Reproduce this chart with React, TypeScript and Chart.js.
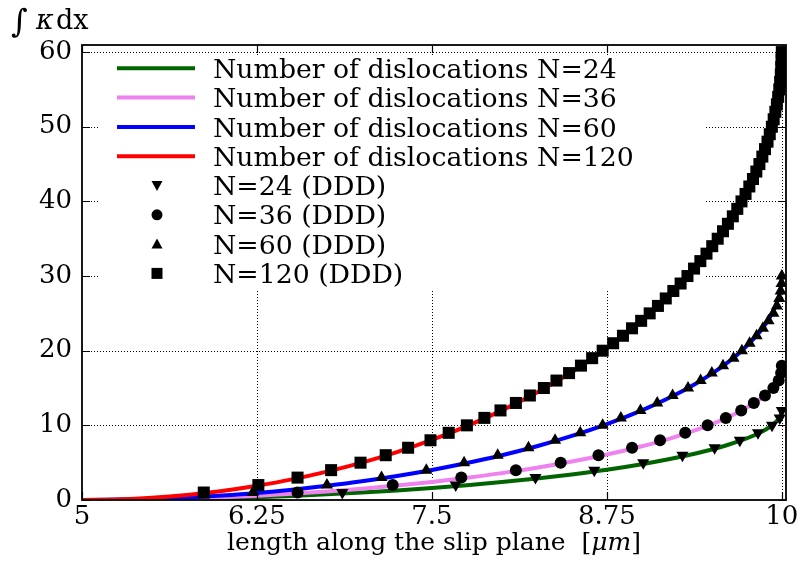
import React, { useEffect, useRef } from "react";
import { Chart, registerables } from "chart.js";

Chart.register(...registerables);

// ---------- data ----------
const curveX = [5, 5.25, 5.5, 5.75, 6, 6.25, 6.5, 6.75, 7, 7.25, 7.5, 7.75, 8, 8.25, 8.5, 8.75, 9, 9.2, 9.4, 9.5, 9.6, 9.7, 9.8, 9.85, 9.9, 9.93, 9.96, 9.98, 9.99, 10];
const curveN24 = [0, 0.02, 0.06, 0.14, 0.24, 0.38, 0.55, 0.76, 1.0, 1.28, 1.61, 1.98, 2.4, 2.88, 3.43, 4.06, 4.8, 5.49, 6.3, 6.77, 7.3, 7.91, 8.64, 9.08, 9.61, 10.0, 10.49, 10.93, 11.24, 12.0];
const curveN36 = [0, 0.02, 0.09, 0.2, 0.36, 0.57, 0.83, 1.14, 1.5, 1.93, 2.41, 2.97, 3.6, 4.32, 5.15, 6.09, 7.2, 8.23, 9.45, 10.15, 10.95, 11.86, 12.96, 13.62, 14.42, 15.0, 15.73, 16.39, 16.86, 18.0];
const curveN60 = [0, 0.04, 0.15, 0.34, 0.61, 0.95, 1.38, 1.9, 2.5, 3.21, 4.02, 4.95, 6.0, 7.2, 8.58, 10.16, 12.0, 13.72, 15.75, 16.92, 18.24, 19.76, 21.6, 22.71, 24.03, 25.0, 26.21, 27.32, 28.1, 30.0];
const curveN120 = [0, 0.08, 0.3, 0.68, 1.21, 1.91, 2.76, 3.8, 5.01, 6.42, 8.04, 9.89, 12.0, 14.4, 17.15, 20.31, 24.0, 27.44, 31.5, 33.85, 36.48, 39.53, 43.2, 45.41, 48.06, 50.0, 52.43, 54.64, 56.21, 60.0];

const ddd24X = [6.86, 7.67, 8.24, 8.66, 9.01, 9.29, 9.52, 9.7, 9.83, 9.93, 9.985, 10.0];
const ddd24Y = [1, 2, 3, 4, 5, 6, 7, 8, 9, 10, 11, 12];
const ddd36X = [6.54, 7.22, 7.71, 8.1, 8.42, 8.69, 8.93, 9.13, 9.31, 9.47, 9.6, 9.71, 9.8, 9.88, 9.94, 9.978, 9.995, 10.0];
const ddd36Y = [1, 2, 3, 4, 5, 6, 7, 8, 9, 10, 11, 12, 13, 14, 15, 16, 17, 18];
const ddd60X = [6.22, 6.75, 7.14, 7.46, 7.73, 7.97, 8.19, 8.38, 8.56, 8.72, 8.85, 8.99, 9.11, 9.22, 9.33, 9.42, 9.5, 9.58, 9.655, 9.715, 9.77, 9.82, 9.865, 9.905, 9.94, 9.965, 9.982, 9.992, 9.998, 10.0];
const ddd60Y = [1, 2, 3, 4, 5, 6, 7, 8, 9, 10, 11, 12, 13, 14, 15, 16, 17, 18, 19, 20, 21, 22, 23, 24, 25, 26, 27, 28, 29, 30];
const ddd120X = [5.87, 6.26, 6.54, 6.78, 6.99, 7.17, 7.33, 7.49, 7.62, 7.75, 7.875, 7.99, 8.1, 8.2, 8.3, 8.39, 8.48, 8.565, 8.645, 8.72, 8.795, 8.865, 8.93, 8.995, 9.056, 9.115, 9.171, 9.225, 9.277, 9.326, 9.373, 9.418, 9.462, 9.503, 9.542, 9.58, 9.615, 9.65, 9.682, 9.712, 9.741, 9.768, 9.794, 9.818, 9.84, 9.861, 9.88, 9.898, 9.914, 9.929, 9.942, 9.954, 9.965, 9.974, 9.982, 9.988, 9.993, 9.996, 9.998, 10.0];
const ddd120Y = [1, 2, 3, 4, 5, 6, 7, 8, 9, 10, 11, 12, 13, 14, 15, 16, 17, 18, 19, 20, 21, 22, 23, 24, 25, 26, 27, 28, 29, 30, 31, 32, 33, 34, 35, 36, 37, 38, 39, 40, 41, 42, 43, 44, 45, 46, 47, 48, 49, 50, 51, 52, 53, 54, 55, 56, 57, 58, 59, 60];

const xTicks = [5, 6.25, 7.5, 8.75, 10];
const yTicks = [0, 10, 20, 30, 40, 50, 60];

const lineLabels = [
  "Number of dislocations N=24",
  "Number of dislocations N=36",
  "Number of dislocations N=60",
  "Number of dislocations N=120",
];
const markerLabels = ["N=24 (DDD)", "N=36 (DDD)", "N=60 (DDD)", "N=120 (DDD)"];
const lineColors = ["#006400", "#EE82EE", "#0000FF", "#FF0000"];
const markerKinds = ["down", "circle", "up", "square"];

const FAMILY = "'DejaVu Serif', serif";

function pts(xs: number[], ys: number[]) {
  return xs.map((x, i) => ({ x, y: ys[i] }));
}

function drawMarker(ctx: CanvasRenderingContext2D, kind: string, x: number, y: number, s: number) {
  ctx.beginPath();
  if (kind === "circle") {
    ctx.arc(x, y, s * 0.5, 0, Math.PI * 2);
  } else if (kind === "square") {
    ctx.rect(x - s / 2, y - s / 2, s, s);
  } else if (kind === "up") {
    ctx.moveTo(x, y - s / 2);
    ctx.lineTo(x + s / 2, y + s / 2 - 1);
    ctx.lineTo(x - s / 2, y + s / 2 - 1);
    ctx.closePath();
  } else {
    ctx.moveTo(x, y + s / 2);
    ctx.lineTo(x + s / 2, y - s / 2 + 1);
    ctx.lineTo(x - s / 2, y - s / 2 + 1);
    ctx.closePath();
  }
  ctx.fill();
}

function fitSize(ctx: CanvasRenderingContext2D, text: string, target: number, style = "") {
  ctx.font = `${style} 100px ${FAMILY}`;
  return (100 * target) / ctx.measureText(text).width;
}

const decor = {
  id: "decor",
  beforeDatasetsDraw(chart: any) {
    const { ctx, chartArea: a, scales } = chart;
    ctx.save();
    ctx.strokeStyle = "#000";
    ctx.lineWidth = 1;
    ctx.setLineDash([1, 2]);
    ctx.beginPath();
    xTicks.slice(1).forEach((v) => {
      const px = Math.round(scales.x.getPixelForValue(v)) + 0.5;
      ctx.moveTo(px, a.top);
      ctx.lineTo(px, a.bottom);
    });
    yTicks.slice(1).forEach((v) => {
      const py = Math.round(scales.y.getPixelForValue(v)) + 0.5;
      ctx.moveTo(a.left, py);
      ctx.lineTo(a.right, py);
    });
    ctx.stroke();
    // legend background hides the grid but stays under the data
    ctx.fillStyle = "#fff";
    ctx.fillRect(a.left + 17, a.top + 10, 606, 235);
    ctx.restore();
  },
  afterDatasetsDraw(chart: any) {
    const { ctx, chartArea: a } = chart;
    ctx.save();
    const fs = fitSize(ctx, lineLabels[0], 404);
    ctx.font = `${fs}px ${FAMILY}`;
    ctx.textAlign = "left";
    ctx.textBaseline = "alphabetic";
    const rowH = 29.3;
    const labels = [...lineLabels, ...markerLabels];
    labels.forEach((lab, i) => {
      const ry = a.top + 23.3 + i * rowH;
      if (i < 4) {
        ctx.strokeStyle = lineColors[i];
        ctx.lineWidth = 4;
        ctx.beginPath();
        ctx.moveTo(a.left + 35, ry);
        ctx.lineTo(a.left + 113, ry);
        ctx.stroke();
      } else {
        ctx.fillStyle = "#000";
        drawMarker(ctx, markerKinds[i - 4], a.left + 75, ry, 11);
      }
      ctx.fillStyle = "#000";
      ctx.fillText(lab, a.left + 131, ry + fs * 0.36);
    });
    ctx.restore();
  },
  afterDraw(chart: any) {
    const { ctx, chartArea: a, scales } = chart;
    ctx.save();
    // inward ticks
    ctx.strokeStyle = "#000";
    ctx.lineWidth = 1.2;
    ctx.beginPath();
    xTicks.forEach((v) => {
      const px = Math.round(scales.x.getPixelForValue(v)) + 0.5;
      ctx.moveTo(px, a.bottom);
      ctx.lineTo(px, a.bottom - 8);
      ctx.moveTo(px, a.top);
      ctx.lineTo(px, a.top + 8);
    });
    yTicks.forEach((v) => {
      const py = Math.round(scales.y.getPixelForValue(v)) + 0.5;
      ctx.moveTo(a.left, py);
      ctx.lineTo(a.left + 8, py);
      ctx.moveTo(a.right, py);
      ctx.lineTo(a.right - 8, py);
    });
    ctx.stroke();
    // frame
    ctx.lineWidth = 1.8;
    ctx.strokeRect(a.left, a.top, a.right - a.left, a.bottom - a.top);

    // x-axis title
    ctx.fillStyle = "#000";
    ctx.textBaseline = "alphabetic";
    ctx.textAlign = "left";
    const p1 = "length along the slip plane  [";
    const p2 = "\u03bcm";
    const p3 = "]";
    const fsx = 25;
    ctx.font = `${fsx}px ${FAMILY}`;
    const w1 = ctx.measureText(p1).width;
    const w3 = ctx.measureText(p3).width;
    ctx.font = `italic ${fsx}px ${FAMILY}`;
    const w2 = ctx.measureText(p2).width;
    const total = w1 + w2 + w3;
    const sx = (a.left + a.right) / 2 - total / 2;
    const by = a.bottom + 50;
    ctx.font = `${fsx}px ${FAMILY}`;
    ctx.fillText(p1, sx, by);
    ctx.font = `italic ${fsx}px ${FAMILY}`;
    ctx.fillText(p2, sx + w1, by);
    ctx.font = `${fsx}px ${FAMILY}`;
    ctx.fillText(p3, sx + w1 + w2, by);

    // y-axis title (top-left)
    const ty = a.top - 16;
    ctx.font = `32px ${FAMILY}`;
    ctx.fillText("\u222b", a.left - 71, ty + 3);
    ctx.font = `italic 27px ${FAMILY}`;
    ctx.fillText("\u03ba", a.left - 46, ty);
    ctx.font = `27px ${FAMILY}`;
    ctx.fillText("dx", a.left - 26, ty);
    ctx.restore();
  },
};

export default function App() {
  const ref = useRef<HTMLCanvasElement>(null);
  useEffect(() => {
    document.body.style.margin = "0";
    const canvas = ref.current!;
    const tickFont = { family: FAMILY, size: 26 };
    const lineDs = (label: string, ys: number[], color: string, order: number) => ({
      type: "line" as const,
      label,
      data: pts(curveX, ys),
      borderColor: color,
      backgroundColor: color,
      borderWidth: 4,
      pointRadius: 0,
      fill: false,
      cubicInterpolationMode: "monotone" as const,
      clip: 0,
      order,
    });
    const markDs = (label: string, xs: number[], ys: number[], style: string, r: number, rot: number) => ({
      type: "scatter" as const,
      label,
      data: pts(xs, ys),
      pointStyle: style,
      pointRadius: r,
      pointRotation: rot,
      backgroundColor: "#000",
      borderColor: "#000",
      borderWidth: 0,
      clip: 0,
      order: 0,
    });
    const chart = new Chart(canvas, {
      type: "scatter",
      data: {
        datasets: [
          lineDs(lineLabels[0], curveN24, lineColors[0], 4),
          lineDs(lineLabels[1], curveN36, lineColors[1], 3),
          lineDs(lineLabels[2], curveN60, lineColors[2], 2),
          lineDs(lineLabels[3], curveN120, lineColors[3], 1),
          markDs(markerLabels[0], ddd24X, ddd24Y, "triangle", 7, 180),
          markDs(markerLabels[1], ddd36X, ddd36Y, "circle", 6, 0),
          markDs(markerLabels[2], ddd60X, ddd60Y, "triangle", 7, 0),
          markDs(markerLabels[3], ddd120X, ddd120Y, "rect", 8.5, 0),
        ] as any,
      },
      options: {
        animation: false,
        responsive: false,
        devicePixelRatio: 1,
        layout: { padding: { top: 45, right: 16, left: 0, bottom: 0 } },
        plugins: { legend: { display: false }, tooltip: { enabled: false }, title: { display: false } },
        scales: {
          x: {
            type: "linear",
            min: 5,
            max: 10.03,
            afterBuildTicks: (s: any) => {
              s.ticks = xTicks.map((v) => ({ value: v }));
            },
            afterFit: (s: any) => {
              s.height = 61;
              s.paddingLeft = 0;
              s.paddingRight = 0;
            },
            grid: { display: false, drawTicks: false },
            border: { display: false },
            ticks: {
              color: "#000",
              font: tickFont,
              padding: 2,
              maxRotation: 0,
              autoSkip: false,
              callback: (v: any) => String(v),
            },
          },
          y: {
            type: "linear",
            min: 0,
            max: 60.95,
            afterBuildTicks: (s: any) => {
              s.ticks = yTicks.map((v) => ({ value: v }));
            },
            afterFit: (s: any) => {
              s.width = 82;
              s.paddingTop = 0;
              s.paddingBottom = 0;
            },
            grid: { display: false, drawTicks: false },
            border: { display: false },
            ticks: {
              color: "#000",
              font: tickFont,
              padding: 10,
              autoSkip: false,
              callback: (v: any) => String(v),
            },
          },
        },
      } as any,
      plugins: [decor],
    });
    return () => chart.destroy();
  }, []);
  return <canvas ref={ref} width={802} height={561} style={{ display: "block" }} />;
}
